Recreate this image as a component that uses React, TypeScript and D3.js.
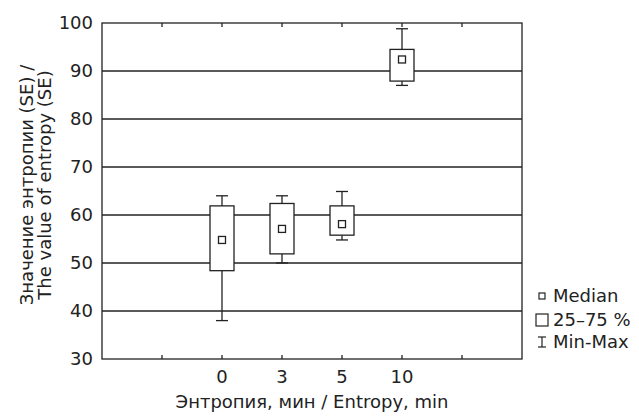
import React, { useEffect, useRef } from 'react';
import * as d3 from 'd3';

// entropy values per time point
const categories = ['0', '3', '5', '10'];
const mins = [38, 50, 54.8, 87];
const q1s = [48.4, 51.9, 55.8, 87.9];
const medians = [54.8, 57.1, 58.1, 92.4];
const q3s = [61.9, 62.4, 61.9, 94.5];
const maxs = [64, 64, 64.9, 98.8];
const yTicks = [30, 40, 50, 60, 70, 80, 90, 100];
const legendLabels = ['Median', '25–75 %', 'Min-Max'];

const W = 639;
const H = 419;
const FONT = '"DejaVu Sans", sans-serif';
const INK = '#222';

export default function App() {
  const svgRef = useRef<SVGSVGElement>(null);

  useEffect(() => {
    const svg = d3.select(svgRef.current);
    svg.selectAll('*').remove();

    const margin = { top: 23, right: 117, bottom: 60, left: 102 };
    const innerW = W - margin.left - margin.right;
    const innerH = H - margin.top - margin.bottom;

    const x = d3.scalePoint<string>().domain(categories).range([0, innerW]).padding(2);
    const y = d3.scaleLinear().domain([30, 100]).range([innerH, 0]);
    const step = x.step();

    const g = svg.append('g').attr('transform', `translate(${margin.left},${margin.top})`);

    // horizontal grid
    g.selectAll('line.grid')
      .data(yTicks.filter(t => t > 30 && t < 100))
      .join('line')
      .attr('class', 'grid')
      .attr('x1', 0).attr('x2', innerW)
      .attr('y1', d => y(d)).attr('y2', d => y(d))
      .attr('stroke', INK).attr('stroke-width', 1.3);

    // frame
    g.append('rect')
      .attr('width', innerW).attr('height', innerH)
      .attr('fill', 'none').attr('stroke', INK).attr('stroke-width', 1.3);

    // inward ticks top & bottom
    const xTickPos = [x(categories[0])! - step, ...categories.map(c => x(c)!), x(categories[categories.length - 1])! + step];
    xTickPos.forEach(px => {
      g.append('line').attr('x1', px).attr('x2', px).attr('y1', innerH).attr('y2', innerH - 4)
        .attr('stroke', INK).attr('stroke-width', 1.3);
      g.append('line').attr('x1', px).attr('x2', px).attr('y1', 0).attr('y2', 4)
        .attr('stroke', INK).attr('stroke-width', 1.3);
    });

    // y tick labels
    g.selectAll('text.ytick')
      .data(yTicks)
      .join('text')
      .attr('class', 'ytick')
      .attr('x', -9)
      .attr('y', d => y(d))
      .attr('dy', '0.36em')
      .attr('text-anchor', 'end')
      .attr('font-family', FONT).attr('font-size', 18).attr('fill', INK)
      .text(d => d);

    // x tick labels
    g.selectAll('text.xtick')
      .data(categories)
      .join('text')
      .attr('class', 'xtick')
      .attr('x', d => x(d)!)
      .attr('y', innerH + 24)
      .attr('text-anchor', 'middle')
      .attr('font-family', FONT).attr('font-size', 18).attr('fill', INK)
      .text(d => d);

    // boxes
    const boxW = 24;
    const capW = 12;
    const medS = 7;
    categories.forEach((c, i) => {
      const cx = x(c)!;
      const bg = g.append('g');
      bg.append('line').attr('x1', cx).attr('x2', cx).attr('y1', y(maxs[i])).attr('y2', y(q3s[i]))
        .attr('stroke', INK).attr('stroke-width', 1.3);
      bg.append('line').attr('x1', cx).attr('x2', cx).attr('y1', y(q1s[i])).attr('y2', y(mins[i]))
        .attr('stroke', INK).attr('stroke-width', 1.3);
      [maxs[i], mins[i]].forEach(v => {
        bg.append('line').attr('x1', cx - capW / 2).attr('x2', cx + capW / 2).attr('y1', y(v)).attr('y2', y(v))
          .attr('stroke', INK).attr('stroke-width', 1.3);
      });
      bg.append('rect')
        .attr('x', cx - boxW / 2).attr('y', y(q3s[i]))
        .attr('width', boxW).attr('height', y(q1s[i]) - y(q3s[i]))
        .attr('fill', '#fff').attr('stroke', INK).attr('stroke-width', 1.3);
      bg.append('rect')
        .attr('x', cx - medS / 2).attr('y', y(medians[i]) - medS / 2)
        .attr('width', medS).attr('height', medS)
        .attr('fill', '#fff').attr('stroke', INK).attr('stroke-width', 1.3);
    });

    // axis titles
    svg.append('text')
      .attr('x', margin.left + innerW / 2)
      .attr('y', 408)
      .attr('text-anchor', 'middle')
      .attr('font-family', FONT).attr('font-size', 18).attr('fill', INK)
      .text('Энтропия, мин / Entropy, min');

    const yt = svg.append('text')
      .attr('transform', 'rotate(-90)')
      .attr('text-anchor', 'middle')
      .attr('font-family', FONT).attr('font-size', 18).attr('fill', INK);
    yt.append('tspan').attr('x', -185).attr('y', 33).text('Значение энтропии (SE) /');
    yt.append('tspan').attr('x', -185).attr('y', 51).text('The value of entropy (SE)');

    // legend
    const lg = svg.append('g');
    const mx = 542;
    const rows = [296, 320, 342];
    lg.append('rect').attr('x', mx - 3).attr('y', rows[0] - 3).attr('width', 6).attr('height', 6)
      .attr('fill', '#fff').attr('stroke', INK).attr('stroke-width', 1.2);
    lg.append('rect').attr('x', mx - 6).attr('y', rows[1] - 6).attr('width', 12).attr('height', 12)
      .attr('fill', '#fff').attr('stroke', INK).attr('stroke-width', 1.2);
    lg.append('line').attr('x1', mx).attr('x2', mx).attr('y1', rows[2] - 5).attr('y2', rows[2] + 5)
      .attr('stroke', INK).attr('stroke-width', 1.2);
    [-5, 5].forEach(d => {
      lg.append('line').attr('x1', mx - 4).attr('x2', mx + 4).attr('y1', rows[2] + d).attr('y2', rows[2] + d)
        .attr('stroke', INK).attr('stroke-width', 1.2);
    });
    lg.selectAll('text')
      .data(legendLabels)
      .join('text')
      .attr('x', 553)
      .attr('y', (d, i) => rows[i] + 6)
      .attr('font-family', FONT).attr('font-size', 18).attr('fill', INK)
      .text(d => d);
  }, []);

  return (
    <svg
      ref={svgRef}
      width={W}
      height={H}
      style={{ position: 'absolute', left: 0, top: 0, background: '#fff' }}
    />
  );
}
